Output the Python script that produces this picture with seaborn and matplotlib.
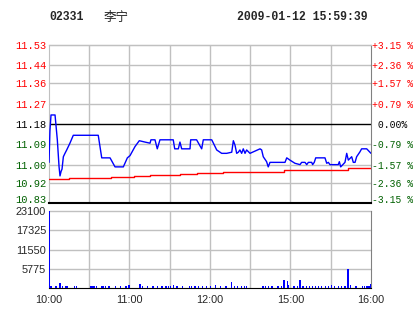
import matplotlib
matplotlib.use("Agg")
import matplotlib.pyplot as plt
import matplotlib.transforms as mtrans
import seaborn as sns
import pandas as pd

# ---- data ----
code = "02331"
name = "李宁"
stamp = "2009-01-12 15:59:39"
prev_close = 11.18
price_ticks = [11.53, 11.44, 11.36, 11.27, 11.18, 11.09, 11.00, 10.92, 10.83]
pct_labels = ["+3.15 %", "+2.36 %", "+1.57 %", "+0.79 %", " 0.00%",
              "-0.79 %", "-1.57 %", "-2.36 %", "-3.15 %"]
vol_ticks = [5775, 11550, 17325, 23100]
time_ticks = [0, 60, 120, 180, 240]
time_labels = ["10:00", "11:00", "12:00", "15:00", "16:00"]

price_min = [0, 0.7, 1.5, 4.5, 6.2, 7.5, 8.2, 9.0, 9.7, 10.7, 11.9, 13.2, 15.6, 18.1,
             36.7, 39.3, 45.5, 49.2, 55.4, 58.4, 60.4, 64.1, 67.3, 71.5, 75.3, 76.0,
             79.0, 80.7, 82.7, 92.6, 93.7, 96.4, 97.6, 98.9, 105.1, 105.6, 110.0,
             113.8, 115.0, 121.3, 125.0, 128.7, 132.4, 136.2, 137.4, 138.6, 139.9,
             141.1, 142.3, 143.6, 144.8, 146.1, 147.3, 149.8, 157.3, 158.5, 159.7,
             162.2, 163.4, 164.7, 168.4, 175.9, 177.2, 179.6, 183.3, 187.1, 188.3,
             190.8, 192.1, 193.3, 195.8, 196.5, 197.7, 198.8, 205.7, 207.0, 208.2,
             209.4, 215.6, 216.4, 217.4, 220.6, 221.9, 223.1, 225.6, 226.8, 228.1,
             229.3, 231.8, 233.0, 236.8, 240.0]
price_val = [11.01, 11.15, 11.22, 11.22, 11.11, 10.99, 10.95, 10.97, 10.98, 11.035,
             11.05, 11.065, 11.095, 11.13, 11.13, 11.03, 11.03, 10.99, 10.99, 11.03,
             11.04, 11.08, 11.106, 11.10, 11.095, 11.11, 11.11, 11.07, 11.11, 11.11,
             11.07, 11.07, 11.10, 11.07, 11.07, 11.11, 11.11, 11.07, 11.11, 11.11,
             11.065, 11.05, 11.05, 11.055, 11.106, 11.087, 11.05, 11.055, 11.065,
             11.05, 11.07, 11.05, 11.065, 11.05, 11.07, 11.065, 11.035, 11.013,
             10.99, 11.01, 11.01, 11.01, 11.03, 11.02, 11.006, 11.00, 11.01, 11.01,
             11.00, 11.01, 11.01, 11.00, 11.01, 11.03, 11.03, 11.006, 11.01, 11.00,
             11.00, 11.013, 10.99, 11.01, 11.05, 11.02, 11.035, 11.01, 11.01, 11.035,
             11.057, 11.07, 11.07, 11.05]

avg_min = [0, 15, 46, 63, 75, 98, 110, 130, 175, 223, 240]
avg_val = [10.936, 10.940, 10.944, 10.949, 10.953, 10.958, 10.962, 10.967,
           10.975, 10.983, 10.985]

vol_min = [0, 1.1, 4.5, 7.7, 9.7, 11.6, 13.0, 18.3, 19.8, 30.6, 32.1, 33.5, 35.0,
           38.8, 40.2, 41.7, 44.0, 49.2, 52.9, 56.7, 58.9, 59.6, 67.3, 69.1, 73.0,
           76.8, 80.5, 83.5, 86.5, 88.7, 90.2, 92.4, 94.7, 99.1, 104.3, 105.8, 108.1,
           111.0, 114.0, 117.0, 119.9, 123.7, 127.4, 131.2, 135.6, 137.9, 140.1,
           143.1, 145.3, 146.8, 158.8, 161.0, 163.2, 165.5, 170.0, 172.9, 174.6,
           177.2, 178.1, 181.9, 184.8, 186.5, 188.6, 191.5, 193.8, 196.0, 198.2,
           200.5, 202.7, 205.7, 207.9, 210.2, 212.4, 215.4, 217.6, 219.9, 222.3,
           224.3, 228.1, 233.3, 234.8, 236.3, 237.8, 239.0]
vol_val = [23100, 600, 600, 1600, 600, 600, 600, 600, 600, 600, 600, 600, 600,
           600, 600, 600, 600, 600, 600, 600, 900, 900, 1200, 600, 600,
           600, 600, 600, 600, 600, 600, 900, 600, 600, 600, 600, 600,
           600, 600, 600, 600, 900, 600, 600, 1800, 600, 600,
           600, 600, 600, 600, 600, 600, 600, 600, 600, 2400,
           2100, 900, 600, 600, 2400, 600, 600, 600, 600, 600,
           600, 600, 600, 600, 900, 600, 600, 600, 600, 5700,
           900, 600, 600, 600, 600, 600, 1200]

# ---- styling ----
sns.set_style("white")
plt.rcParams["font.family"] = ["Liberation Mono", "Noto Sans CJK SC", "DejaVu Sans"]

RED = "#ff0000"
GREEN = "#006000"
GRID = "#c0c0c0"
AXG = "#808080"

fig = plt.figure(figsize=(4.14, 3.14), dpi=100)
W, H = 414, 314

def rect(x0, y0, x1, y1):
    return [x0 / W, 1 - y1 / H, (x1 - x0) / W, (y1 - y0) / H]

ax = fig.add_axes(rect(49, 45, 371, 203))
axv = fig.add_axes(rect(49, 211, 371, 288))

price_df = pd.DataFrame({"t": price_min, "p": price_val})
avg_df = pd.DataFrame({"t": avg_min, "p": avg_val})

# grid
for a in (ax, axv):
    for t in range(30, 240, 30):
        a.axvline(t, color=GRID, lw=1, zorder=0)
for p in price_ticks:
    if p not in (prev_close, price_ticks[-1]):
        ax.axhline(p, color=GRID, lw=1, zorder=0, clip_on=False)
ax.axhline(prev_close, color="black", lw=1, zorder=1)
for v in vol_ticks:
    axv.axhline(v, color=GRID, lw=1, zorder=0, clip_on=False)

sns.lineplot(data=avg_df, x="t", y="p", ax=ax, color=RED, lw=1,
             drawstyle="steps-post", estimator=None, sort=False, zorder=3)
sns.lineplot(data=price_df, x="t", y="p", ax=ax, color="#0000ff", lw=1,
             estimator=None, sort=False, zorder=4)

ax.set_xlim(0, 240)
ax.set_ylim(price_ticks[-1], price_ticks[0])
ax.set_yticks(price_ticks)
ax.set_yticklabels([f"{p:.2f}" for p in price_ticks], fontsize=7.5)
ax.set_xticks([])
ax.set_xlabel("")
ax.set_ylabel("")
ax.tick_params(axis="y", length=0, pad=2)
for s in ("top", "left"):
    ax.spines[s].set_color(GRID)
ax.spines["right"].set_color(AXG)
ax.spines["bottom"].set_color("black")
ax.spines["bottom"].set_linewidth(1.5)

ax2 = ax.twinx()
ax2.set_ylim(ax.get_ylim())
ax2.set_yticks(price_ticks)
ax2.set_yticklabels(pct_labels, fontsize=7)
ax2.tick_params(axis="y", length=0, pad=1)
for s in ax2.spines.values():
    s.set_visible(False)

up = mtrans.ScaledTranslation(0, 4 / 100, fig.dpi_scale_trans)
for a in (ax, ax2):
    lbls = a.get_yticklabels()
    for lbl, p in zip(lbls, price_ticks):
        lbl.set_color(RED if p > prev_close else ("black" if p == prev_close else GREEN))
    lbls[-1].set_transform(lbls[-1].get_transform() + up)

# volume
axv.bar(vol_min, vol_val, width=1.1, align="edge", color="#0000ff", lw=0, zorder=3)
axv.set_xlim(0, 240)
axv.set_ylim(0, vol_ticks[-1])
axv.set_yticks(vol_ticks)
axv.set_yticklabels([str(v) for v in vol_ticks], fontsize=7.8,
                    family="Liberation Sans")
down = mtrans.ScaledTranslation(0, -2 / 100, fig.dpi_scale_trans)
for lbl in axv.get_yticklabels():
    lbl.set_transform(lbl.get_transform() + down)
axv.set_xticks(time_ticks)
axv.set_xticklabels(time_labels, fontsize=7.8, family="Liberation Sans")
axv.tick_params(length=0, pad=2)
axv.tick_params(axis="x", pad=5)
axv.spines["top"].set_visible(False)
axv.spines["left"].set_color(GRID)
axv.spines["right"].set_color(AXG)
axv.spines["bottom"].set_color("black")

# header
fig.text(49 / W, 1 - 17 / H, code, fontsize=8.3, fontweight="bold", va="center",
         ha="left")
fig.text(104 / W, 1 - 17 / H, name, fontsize=9, va="center", ha="left",
         family=["Noto Sans CJK SC", "DejaVu Sans"])
fig.text(237 / W, 1 - 17 / H, stamp, fontsize=8.3, fontweight="bold",
         va="center", ha="left")

fig.savefig("out.png", dpi=100)
